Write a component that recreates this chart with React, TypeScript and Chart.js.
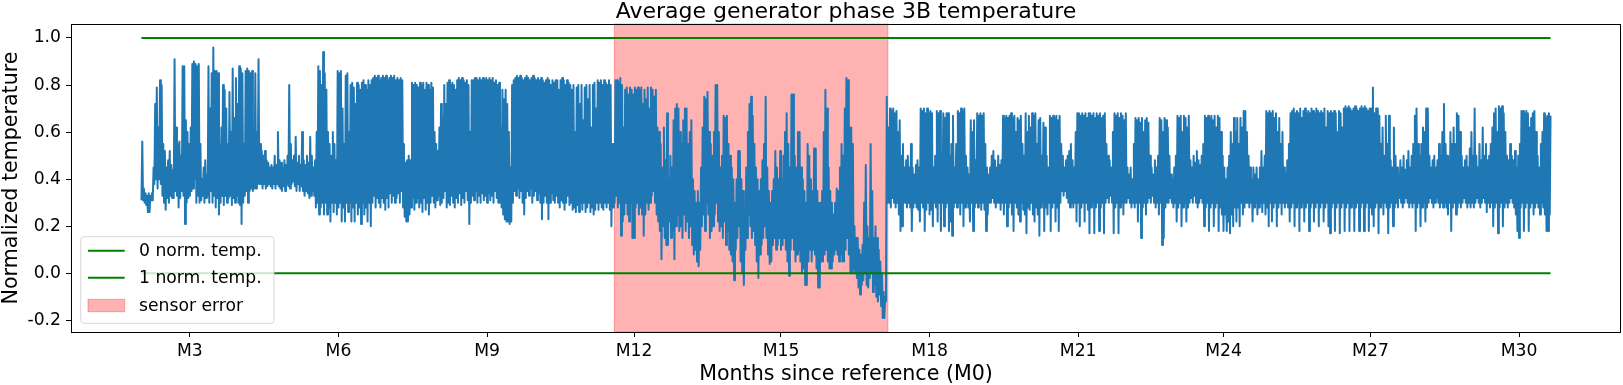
import React, { useEffect, useRef } from 'react';
import { Chart, registerables } from 'chart.js';

Chart.register(...registerables);

// ---- data: daily low / daily high readings, days since reference M0 ----
const FIRST_DAY = 61;

const lowPreM3 = [0.31,0.31,0.30,0.29,0.26,0.26,0.31,0.31,0.38,0.40,0.36,0.40,0.38,0.33,0.30,0.27,0.32,0.30,0.33,0.32,0.32,0.35,0.33,0.28,0.32,0.35,0.33,0.21,0.30,0.32];
const highPreM3 = [0.56,0.36,0.34,0.33,0.34,0.33,0.34,0.45,0.72,0.79,0.62,0.82,0.80,0.55,0.52,0.45,0.48,0.52,0.46,0.44,0.91,0.62,0.55,0.56,0.50,0.88,0.88,0.65,0.60,0.55];

const lowM3toM6 = [0.33,0.35,0.36,0.40,0.30,0.33,0.30,0.31,0.33,0.30,0.32,0.33,0.30,0.35,0.30,0.33,0.28,0.32,0.25,0.30,0.33,0.29,0.33,0.30,0.32,0.33,0.29,0.32,0.30,0.33,0.30,0.29,0.21,0.30,0.33,0.35,0.30,0.35,0.36,0.35,0.36,0.36,0.38,0.38,0.38,0.36,0.38,0.36,0.37,0.38,0.37,0.36,0.38,0.36,0.38,0.37,0.36,0.35,0.37,0.35,0.38,0.37,0.36,0.38,0.39,0.37,0.35,0.38,0.35,0.37,0.35,0.33,0.35,0.34,0.32,0.33,0.35,0.33,0.28,0.30,0.25,0.28,0.30,0.25,0.30,0.25,0.28,0.22,0.30,0.26,0.30,0.25];
const highM3toM6 = [0.62,0.89,0.90,0.89,0.88,0.89,0.55,0.40,0.45,0.48,0.42,0.88,0.70,0.85,0.96,0.86,0.86,0.85,0.55,0.62,0.80,0.78,0.70,0.55,0.77,0.60,0.87,0.66,0.83,0.72,0.88,0.87,0.85,0.55,0.86,0.87,0.86,0.85,0.86,0.60,0.85,0.60,0.91,0.55,0.52,0.50,0.52,0.48,0.47,0.45,0.46,0.45,0.50,0.46,0.60,0.48,0.47,0.45,0.48,0.46,0.50,0.80,0.55,0.48,0.50,0.58,0.47,0.50,0.46,0.60,0.48,0.46,0.50,0.47,0.58,0.50,0.45,0.48,0.60,0.88,0.86,0.80,0.94,0.85,0.78,0.60,0.55,0.50,0.60,0.55,0.48,0.86];

const lowM6toM9 = [0.28,0.30,0.22,0.28,0.22,0.30,0.26,0.30,0.22,0.28,0.22,0.30,0.25,0.28,0.21,0.30,0.25,0.28,0.22,0.30,0.20,0.30,0.33,0.28,0.32,0.30,0.28,0.32,0.30,0.27,0.32,0.28,0.34,0.30,0.33,0.30,0.32,0.34,0.30,0.35,0.28,0.24,0.22,0.22,0.25,0.28,0.32,0.27,0.30,0.32,0.28,0.30,0.26,0.32,0.27,0.30,0.25,0.30,0.33,0.30,0.28,0.31,0.33,0.29,0.30,0.32,0.35,0.28,0.30,0.29,0.33,0.30,0.28,0.32,0.30,0.34,0.29,0.32,0.30,0.35,0.31,0.21,0.30,0.33,0.31,0.35,0.30,0.33,0.30,0.34,0.31,0.33];
const highM6toM9 = [0.85,0.86,0.70,0.55,0.84,0.85,0.60,0.80,0.81,0.79,0.72,0.81,0.80,0.78,0.81,0.82,0.80,0.78,0.82,0.80,0.82,0.83,0.84,0.83,0.84,0.82,0.83,0.84,0.83,0.84,0.82,0.83,0.84,0.83,0.84,0.82,0.83,0.82,0.83,0.82,0.55,0.47,0.48,0.50,0.48,0.81,0.80,0.81,0.80,0.79,0.81,0.80,0.81,0.78,0.81,0.80,0.78,0.81,0.79,0.60,0.55,0.52,0.62,0.72,0.66,0.80,0.72,0.81,0.82,0.80,0.81,0.80,0.78,0.82,0.83,0.82,0.83,0.82,0.81,0.82,0.80,0.60,0.82,0.82,0.83,0.83,0.82,0.83,0.82,0.83,0.82,0.83];

const lowM9toM12 = [0.30,0.34,0.31,0.33,0.30,0.35,0.32,0.30,0.30,0.28,0.25,0.23,0.22,0.22,0.21,0.22,0.30,0.35,0.33,0.36,0.32,0.35,0.30,0.25,0.32,0.35,0.33,0.36,0.30,0.33,0.35,0.31,0.34,0.30,0.23,0.30,0.33,0.30,0.23,0.30,0.34,0.31,0.30,0.33,0.30,0.28,0.31,0.30,0.27,0.30,0.33,0.29,0.30,0.27,0.28,0.26,0.29,0.26,0.30,0.27,0.30,0.26,0.28,0.30,0.26,0.28,0.25,0.27,0.30,0.27,0.30,0.28,0.27,0.30,0.28,0.30,0.27,0.20,0.28,0.30,0.33,0.28,0.30,0.16,0.22,0.25,0.30,0.25,0.22,0.30,0.15];
const highM9toM12 = [0.82,0.83,0.82,0.83,0.81,0.82,0.80,0.81,0.62,0.78,0.74,0.78,0.72,0.60,0.45,0.80,0.82,0.83,0.84,0.83,0.84,0.83,0.82,0.83,0.84,0.83,0.82,0.83,0.84,0.83,0.82,0.83,0.82,0.83,0.82,0.81,0.82,0.83,0.82,0.80,0.82,0.81,0.82,0.82,0.78,0.82,0.83,0.82,0.80,0.82,0.81,0.80,0.78,0.80,0.60,0.79,0.80,0.72,0.80,0.65,0.79,0.80,0.74,0.80,0.62,0.80,0.81,0.70,0.82,0.81,0.82,0.80,0.82,0.81,0.80,0.82,0.80,0.55,0.55,0.82,0.82,0.81,0.83,0.80,0.62,0.78,0.79,0.76,0.79,0.78,0.76];

const lowM12toM15 = [0.15,0.28,0.30,0.25,0.28,0.25,0.16,0.25,0.30,0.27,0.30,0.33,0.35,0.30,0.25,0.22,0.18,0.06,0.20,0.15,0.12,0.12,0.22,0.15,0.18,0.06,0.20,0.25,0.18,0.20,0.15,0.25,0.18,0.22,0.15,0.20,0.12,0.08,0.10,0.05,0.03,0.10,0.20,0.25,0.18,0.30,0.25,0.15,0.18,0.20,0.25,0.30,0.22,0.18,0.20,0.15,0.22,0.12,0.18,0.10,0.08,0.05,-0.03,0.10,0.15,0.20,0.05,0.00,-0.05,0.10,0.15,0.25,0.20,0.15,0.18,0.12,0.05,-0.02,0.08,0.12,0.15,0.20,0.15,0.08,0.04,0.05,0.12,0.15,0.10,0.12,0.15];
const highM12toM15 = [0.79,0.78,0.79,0.78,0.79,0.72,0.78,0.74,0.79,0.70,0.79,0.78,0.75,0.78,0.62,0.60,0.55,0.45,0.62,0.48,0.68,0.40,0.50,0.45,0.65,0.70,0.72,0.70,0.60,0.55,0.65,0.70,0.70,0.55,0.60,0.65,0.40,0.35,0.30,0.35,0.30,0.45,0.62,0.75,0.74,0.77,0.60,0.55,0.50,0.60,0.80,0.80,0.60,0.45,0.50,0.67,0.66,0.67,0.55,0.50,0.45,0.40,0.30,0.40,0.52,0.52,0.40,0.35,0.25,0.45,0.60,0.72,0.75,0.67,0.55,0.45,0.40,0.35,0.40,0.48,0.55,0.75,0.45,0.35,0.30,0.35,0.40,0.52,0.45,0.40,0.52];

const lowM15toM18 = [0.10,0.12,0.15,0.10,0.05,-0.01,0.10,0.15,0.10,0.05,0.08,0.10,0.05,0.00,0.02,-0.05,-0.05,0.05,0.10,0.05,0.10,0.08,0.02,-0.06,-0.06,0.05,0.05,0.08,0.10,0.05,0.02,0.02,0.05,0.08,0.10,0.08,0.05,0.08,0.05,0.05,0.10,0.15,0.08,0.00,0.00,0.02,0.00,-0.02,-0.06,-0.09,-0.05,-0.03,0.00,-0.05,-0.06,-0.02,0.00,-0.08,-0.05,-0.10,-0.12,-0.09,-0.14,-0.19,-0.19,-0.12,0.30,0.30,0.28,0.32,0.30,0.28,0.30,0.25,0.18,0.20,0.30,0.30,0.28,0.30,0.28,0.18,0.28,0.30,0.28,0.27,0.22,0.30,0.28,0.18,0.27,0.30];
const highM15toM18 = [0.40,0.50,0.60,0.68,0.55,0.45,0.76,0.76,0.50,0.45,0.60,0.60,0.45,0.40,0.35,0.30,0.55,0.50,0.40,0.35,0.53,0.53,0.35,0.30,0.30,0.35,0.60,0.78,0.70,0.45,0.35,0.30,0.25,0.30,0.36,0.35,0.45,0.55,0.50,0.70,0.83,0.82,0.62,0.62,0.55,0.20,0.15,0.15,0.10,0.08,0.12,0.30,0.46,0.20,0.15,0.55,0.35,0.15,0.20,0.15,0.10,0.05,0.00,-0.08,-0.10,0.75,0.62,0.70,0.69,0.70,0.68,0.69,0.60,0.65,0.50,0.55,0.45,0.48,0.50,0.45,0.55,0.45,0.42,0.46,0.48,0.45,0.70,0.69,0.70,0.68,0.70,0.68];

const lowM18toM21 = [0.25,0.27,0.20,0.30,0.28,0.22,0.30,0.18,0.30,0.20,0.28,0.30,0.18,0.22,0.16,0.28,0.30,0.28,0.30,0.25,0.30,0.20,0.28,0.30,0.28,0.22,0.30,0.18,0.28,0.30,0.28,0.30,0.27,0.30,0.27,0.18,0.25,0.30,0.30,0.32,0.30,0.28,0.30,0.30,0.27,0.30,0.25,0.30,0.20,0.28,0.30,0.25,0.18,0.30,0.28,0.25,0.22,0.30,0.27,0.25,0.17,0.28,0.27,0.30,0.25,0.22,0.28,0.25,0.16,0.28,0.30,0.18,0.28,0.25,0.30,0.18,0.28,0.30,0.22,0.28,0.18,0.30,0.35,0.33,0.35,0.32,0.30,0.28,0.30,0.28,0.30,0.22];
const highM18toM21 = [0.69,0.68,0.45,0.50,0.69,0.68,0.69,0.50,0.68,0.66,0.68,0.68,0.50,0.55,0.67,0.45,0.55,0.69,0.68,0.70,0.69,0.70,0.50,0.45,0.42,0.65,0.60,0.65,0.48,0.68,0.67,0.68,0.67,0.68,0.55,0.45,0.42,0.45,0.50,0.52,0.48,0.45,0.50,0.46,0.48,0.67,0.66,0.67,0.66,0.67,0.68,0.66,0.67,0.60,0.66,0.65,0.67,0.55,0.50,0.68,0.60,0.67,0.62,0.68,0.67,0.68,0.55,0.65,0.66,0.50,0.64,0.62,0.50,0.45,0.67,0.66,0.67,0.66,0.67,0.65,0.67,0.55,0.50,0.45,0.48,0.50,0.52,0.55,0.48,0.45,0.60,0.68];

const lowM21toM24 = [0.30,0.20,0.28,0.30,0.22,0.30,0.27,0.17,0.28,0.30,0.17,0.28,0.30,0.18,0.28,0.30,0.17,0.30,0.32,0.30,0.33,0.30,0.17,0.28,0.30,0.17,0.28,0.30,0.25,0.30,0.30,0.32,0.30,0.28,0.30,0.28,0.30,0.22,0.30,0.15,0.28,0.30,0.25,0.30,0.32,0.30,0.33,0.30,0.28,0.30,0.25,0.30,0.12,0.15,0.28,0.30,0.30,0.32,0.30,0.28,0.30,0.22,0.28,0.30,0.20,0.28,0.30,0.22,0.28,0.30,0.32,0.30,0.33,0.30,0.28,0.30,0.32,0.30,0.20,0.28,0.30,0.18,0.28,0.30,0.20,0.28,0.30,0.18,0.28,0.25];
const highM21toM24 = [0.68,0.67,0.68,0.67,0.68,0.66,0.68,0.68,0.67,0.68,0.66,0.68,0.67,0.68,0.66,0.67,0.68,0.55,0.50,0.48,0.45,0.60,0.68,0.67,0.68,0.66,0.68,0.67,0.65,0.68,0.45,0.42,0.45,0.40,0.55,0.66,0.65,0.66,0.64,0.66,0.60,0.65,0.66,0.64,0.50,0.45,0.42,0.48,0.45,0.50,0.66,0.65,0.60,0.66,0.65,0.62,0.50,0.42,0.40,0.45,0.50,0.67,0.66,0.67,0.60,0.67,0.66,0.62,0.67,0.48,0.45,0.50,0.47,0.52,0.48,0.46,0.50,0.55,0.67,0.66,0.67,0.66,0.67,0.65,0.67,0.62,0.67,0.66,0.60,0.50];

const lowM24toM27 = [0.18,0.25,0.18,0.22,0.17,0.25,0.20,0.28,0.22,0.28,0.20,0.30,0.25,0.28,0.30,0.30,0.28,0.30,0.22,0.28,0.30,0.25,0.28,0.30,0.26,0.30,0.25,0.28,0.20,0.30,0.22,0.28,0.30,0.20,0.28,0.30,0.25,0.30,0.28,0.30,0.28,0.22,0.28,0.30,0.20,0.28,0.30,0.18,0.28,0.30,0.22,0.28,0.30,0.18,0.28,0.30,0.22,0.28,0.30,0.20,0.28,0.30,0.22,0.28,0.30,0.20,0.17,0.28,0.30,0.18,0.28,0.30,0.17,0.28,0.30,0.18,0.28,0.30,0.18,0.28,0.30,0.18,0.28,0.30,0.18,0.28,0.30,0.18,0.28,0.30,0.18];
const highM24toM27 = [0.45,0.40,0.45,0.50,0.60,0.55,0.66,0.60,0.66,0.55,0.66,0.62,0.69,0.69,0.60,0.50,0.45,0.40,0.45,0.42,0.45,0.40,0.45,0.52,0.45,0.50,0.69,0.68,0.69,0.68,0.69,0.66,0.68,0.60,0.66,0.55,0.60,0.45,0.42,0.48,0.55,0.68,0.69,0.70,0.68,0.69,0.68,0.70,0.66,0.69,0.70,0.68,0.69,0.68,0.70,0.69,0.68,0.70,0.69,0.68,0.69,0.68,0.70,0.62,0.69,0.68,0.69,0.68,0.69,0.68,0.60,0.69,0.68,0.62,0.70,0.71,0.70,0.71,0.70,0.69,0.70,0.71,0.70,0.69,0.70,0.71,0.70,0.71,0.70,0.69,0.70];

const lowM27toM30 = [0.28,0.25,0.20,0.28,0.30,0.17,0.28,0.30,0.25,0.30,0.28,0.17,0.28,0.30,0.20,0.28,0.30,0.28,0.32,0.30,0.28,0.30,0.32,0.30,0.28,0.30,0.28,0.30,0.18,0.28,0.30,0.20,0.28,0.30,0.22,0.28,0.30,0.32,0.30,0.28,0.30,0.32,0.30,0.28,0.30,0.28,0.30,0.28,0.25,0.30,0.18,0.28,0.30,0.25,0.28,0.30,0.28,0.30,0.32,0.30,0.28,0.30,0.28,0.30,0.28,0.30,0.32,0.30,0.28,0.30,0.32,0.30,0.26,0.30,0.28,0.30,0.20,0.28,0.30,0.17,0.28,0.30,0.20,0.28,0.30,0.28,0.30,0.32,0.30,0.28,0.25,0.18];
const highM27toM30 = [0.70,0.79,0.68,0.70,0.70,0.67,0.55,0.62,0.50,0.67,0.55,0.67,0.48,0.45,0.62,0.50,0.45,0.42,0.48,0.45,0.50,0.44,0.48,0.52,0.45,0.50,0.55,0.67,0.70,0.55,0.50,0.55,0.62,0.60,0.70,0.70,0.50,0.45,0.48,0.50,0.45,0.48,0.55,0.50,0.60,0.72,0.55,0.50,0.48,0.60,0.55,0.62,0.55,0.68,0.67,0.60,0.50,0.45,0.48,0.50,0.45,0.53,0.60,0.50,0.70,0.50,0.45,0.55,0.48,0.62,0.50,0.55,0.48,0.50,0.55,0.62,0.68,0.70,0.60,0.71,0.70,0.71,0.68,0.60,0.50,0.48,0.55,0.50,0.48,0.52,0.45,0.50];

const lowPostM30 = [0.15,0.28,0.30,0.18,0.28,0.30,0.18,0.28,0.30,0.25,0.28,0.30,0.28,0.25,0.30,0.28,0.25,0.18,0.18,0.25];
const highPostM30 = [0.55,0.69,0.69,0.68,0.69,0.68,0.62,0.66,0.68,0.69,0.60,0.50,0.45,0.55,0.60,0.68,0.66,0.67,0.68,0.67];

const dailyLow = [
  ...lowPreM3, ...lowM3toM6, ...lowM6toM9, ...lowM9toM12, ...lowM12toM15, ...lowM15toM18,
  ...lowM18toM21, ...lowM21toM24, ...lowM24toM27, ...lowM27toM30, ...lowPostM30,
];
const dailyHigh = [
  ...highPreM3, ...highM3toM6, ...highM6toM9, ...highM9toM12, ...highM12toM15, ...highM15toM18,
  ...highM18toM21, ...highM21toM24, ...highM24toM27, ...highM27toM30, ...highPostM30,
];

const monthTickDays = [91, 183, 275, 366, 457, 549, 641, 731, 822, 914];
const monthTickLabels = ['M3', 'M6', 'M9', 'M12', 'M15', 'M18', 'M21', 'M24', 'M27', 'M30'];
const yTickValues = [-0.2, 0, 0.2, 0.4, 0.6, 0.8, 1.0];
const referenceLevels = [0, 1];
const legendLabels = ['0 norm. temp.', '1 norm. temp.', 'sensor error'];
const sensorErrorDays = [353.8, 523.2];

const TITLE = 'Average generator phase 3B temperature';
const X_LABEL = 'Months since reference (M0)';
const Y_LABEL = 'Normalized temperature';

const FONT = '"DejaVu Sans"';
const BLUE = '#1f77b4';
const GREEN = '#008000';
const SPAN_FILL = 'rgba(255,0,0,0.3)';

export default function App() {
  const canvasRef = useRef<HTMLCanvasElement | null>(null);

  useEffect(() => {
    const canvas = canvasRef.current;
    if (!canvas) return;

    const readings = dailyLow.flatMap((lo, i) => [
      { x: FIRST_DAY + i, y: lo },
      { x: FIRST_DAY + i + 0.5, y: dailyHigh[i] },
    ]);
    const xFirst = readings[0].x;
    const xLast = readings[readings.length - 1].x;
    const xPad = 0.05 * (xLast - xFirst);
    const allY = readings.map((p) => p.y).concat(referenceLevels);
    const yLo = Math.min(...allY);
    const yHi = Math.max(...allY);
    const yPad = 0.05 * (yHi - yLo);

    const decor = {
      id: 'decor',
      beforeDatasetsDraw(chart: any) {
        const { ctx, chartArea, scales } = chart;
        const x0 = scales.x.getPixelForValue(sensorErrorDays[0]);
        const x1 = scales.x.getPixelForValue(sensorErrorDays[1]);
        ctx.save();
        ctx.fillStyle = SPAN_FILL;
        ctx.fillRect(x0, chartArea.top, x1 - x0, chartArea.bottom - chartArea.top);
        ctx.strokeStyle = SPAN_FILL;
        ctx.lineWidth = 1;
        ctx.strokeRect(x0, chartArea.top, x1 - x0, chartArea.bottom - chartArea.top);
        ctx.restore();
      },
      afterDraw(chart: any) {
        const { ctx, chartArea } = chart;
        const { left, right, top, bottom } = chartArea;
        ctx.save();
        ctx.strokeStyle = '#000';
        ctx.lineWidth = 1;
        ctx.strokeRect(left + 0.5, top + 0.5, right - left - 1, bottom - top);
        ctx.fillStyle = '#000';
        ctx.textAlign = 'center';
        ctx.textBaseline = 'alphabetic';
        ctx.font = `22px ${FONT}`;
        ctx.fillText(TITLE, (left + right) / 2, 17.5);
        ctx.font = `20.6px ${FONT}`;
        ctx.fillText(X_LABEL, (left + right) / 2, 380);
        ctx.save();
        ctx.translate(16.5, (top + bottom) / 2);
        ctx.rotate(-Math.PI / 2);
        ctx.fillText(Y_LABEL, 0, 0);
        ctx.restore();
        // legend
        const bx = 80.7, by = 236.7, bw = 193.3, bh = 86.6;
        ctx.beginPath();
        ctx.roundRect(bx, by, bw, bh, 3);
        ctx.fillStyle = 'rgba(255,255,255,0.8)';
        ctx.fill();
        ctx.strokeStyle = 'rgba(204,204,204,0.8)';
        ctx.lineWidth = 1;
        ctx.stroke();
        const rows = [250.7, 277.7, 305.5];
        ctx.strokeStyle = GREEN;
        ctx.lineWidth = 2;
        for (let i = 0; i < 2; i++) {
          ctx.beginPath();
          ctx.moveTo(88, rows[i]);
          ctx.lineTo(124.7, rows[i]);
          ctx.stroke();
        }
        ctx.fillStyle = SPAN_FILL;
        ctx.fillRect(88, 299.3, 36.7, 12.4);
        ctx.strokeStyle = SPAN_FILL;
        ctx.lineWidth = 1;
        ctx.strokeRect(88, 299.3, 36.7, 12.4);
        ctx.fillStyle = '#000';
        ctx.textAlign = 'left';
        ctx.textBaseline = 'middle';
        ctx.font = `17.2px ${FONT}`;
        legendLabels.forEach((t, i) => ctx.fillText(t, 139, rows[i] + 1));
        ctx.restore();
      },
    };

    const chart = new Chart(canvas, {
      type: 'line',
      data: {
        datasets: [
          {
            label: legendLabels[0],
            data: [{ x: xFirst, y: referenceLevels[0] }, { x: xLast, y: referenceLevels[0] }],
            borderColor: GREEN, borderWidth: 2, pointRadius: 0, order: 0,
          },
          {
            label: legendLabels[1],
            data: [{ x: xFirst, y: referenceLevels[1] }, { x: xLast, y: referenceLevels[1] }],
            borderColor: GREEN, borderWidth: 2, pointRadius: 0, order: 0,
          },
          {
            label: 'temperature',
            data: readings,
            borderColor: BLUE, borderWidth: 2, pointRadius: 0, order: 1,
            borderJoinStyle: 'round', tension: 0,
          },
        ],
      },
      options: {
        animation: false,
        responsive: false,
        devicePixelRatio: 1,
        events: [],
        layout: { padding: { left: 0, top: 24, right: 2, bottom: 0 } },
        plugins: { legend: { display: false }, tooltip: { enabled: false }, title: { display: false } },
        scales: {
          x: {
            type: 'linear',
            min: xFirst - xPad,
            max: xLast + xPad,
            afterBuildTicks: (s: any) => { s.ticks = monthTickDays.map((value) => ({ value })); },
            afterFit: (s: any) => { s.height = 53; },
            ticks: {
              autoSkip: false, maxRotation: 0, minRotation: 0, padding: 4, color: '#000',
              font: { family: 'DejaVu Sans', size: 17.2 },
              callback: (_v: any, i: number) => monthTickLabels[i],
            },
            grid: { drawOnChartArea: false, drawTicks: true, tickLength: 5, color: '#000', lineWidth: 1 },
            border: { display: false },
          },
          y: {
            type: 'linear',
            min: yLo - yPad,
            max: yHi + yPad,
            afterBuildTicks: (s: any) => { s.ticks = yTickValues.map((value) => ({ value })); },
            afterFit: (s: any) => { s.width = 71; },
            ticks: {
              padding: 5, color: '#000',
              font: { family: 'DejaVu Sans', size: 17.2 },
              callback: (v: any) => Number(v).toFixed(1),
            },
            grid: { drawOnChartArea: false, drawTicks: true, tickLength: 5, color: '#000', lineWidth: 1 },
            border: { display: false },
          },
        },
      },
      plugins: [decor],
    } as any);

    return () => chart.destroy();
  }, []);

  return (
    <div style={{ position: 'absolute', left: 0, top: 0, width: 1623, height: 385, background: '#fff' }}>
      <canvas ref={canvasRef} width={1623} height={385} style={{ display: 'block', width: 1623, height: 385 }} />
    </div>
  );
}
